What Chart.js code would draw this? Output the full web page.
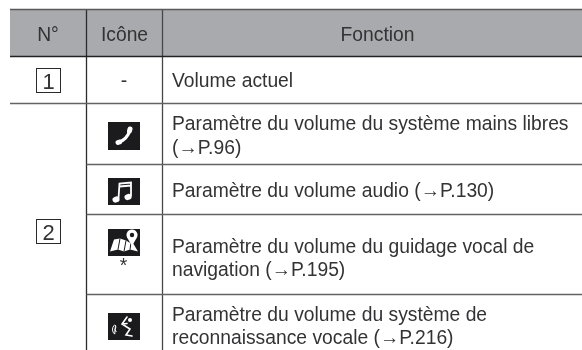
<!DOCTYPE html>
<html>
<head>
<meta charset="utf-8">
<style>
html, body { margin: 0; padding: 0; background: #fff; }
canvas { display: block; }
</style>
<script src="https://cdn.jsdelivr.net/npm/chart.js@4/dist/chart.umd.min.js"></script>
</head>
<body>
<canvas id="chart" width="582" height="350"></canvas>
<script>
// table content
const headers = ['N°', 'Icône', 'Fonction'];
const numbers = ['1', '2'];
const iconCells = ['-', 'phone', 'music', 'map', 'voice'];
const functionLines = [
    ['Volume actuel'],
    ['Paramètre du volume du système mains libres', '(→P.96)'],
    ['Paramètre du volume audio (→P.130)'],
    ['Paramètre du volume du guidage vocal de', 'navigation (→P.195)'],
    ['Paramètre du volume du système de', 'reconnaissance vocale (→P.216)']
];

// layout, in scale units (scales are 1:1 with the page)
const colEdges = [10, 86.5, 162.5, 582];
const rowEdges = [9.5, 56.5, 103.5, 164.5, 214.5, 294.5, 350];
const headerMid = [48, 124.5, 377.5];
const lineBase = [[87], [130, 153.5], [197.3], [252.7, 275.7], [321, 344]];
const iconTile = [[122, 150], [178, 205], [229, 256], [313, 340]];
const FONT = '"Liberation Sans", Arial, sans-serif';
const TEXT = '#333335';
const SIZE = 19.3;

function rule(x0, y0, x1, y1, color) {
    return {
        data: [{ x: x0, y: y0 }, { x: x1, y: y1 }],
        showLine: true, pointRadius: 0, borderWidth: 1.3, borderColor: color
    };
}

const lastX = colEdges[3];
const ruleSets = [
    rule(colEdges[0], rowEdges[0], lastX, rowEdges[0], '#58585a'),
    rule(colEdges[0], rowEdges[1], lastX, rowEdges[1], '#222224'),
    rule(colEdges[0], rowEdges[2], lastX, rowEdges[2], '#636365'),
    rule(colEdges[1], rowEdges[3], lastX, rowEdges[3], '#636365'),
    rule(colEdges[1], rowEdges[4], lastX, rowEdges[4], '#636365'),
    rule(colEdges[1], rowEdges[5], lastX, rowEdges[5], '#636365'),
    rule(colEdges[1], rowEdges[0], colEdges[1], rowEdges[6], '#2c2c2e'),
    rule(colEdges[2], rowEdges[0], colEdges[2], rowEdges[6], '#48484a')
];

function label(ctx, text, x, y, size, align) {
    ctx.font = size + 'px ' + FONT;
    ctx.textAlign = align || 'center';
    ctx.textBaseline = 'alphabetic';
    ctx.fillStyle = TEXT;
    ctx.fillText(text, x, y);
}

function boxedNumber(ctx, text, cx, cy, base) {
    ctx.strokeStyle = '#2a2a2c';
    ctx.lineWidth = 1;
    ctx.strokeRect(cx - 12, cy - 12, 24, 24);
    label(ctx, text, cx, base, 22);
}

// glyphs are drawn around the middle of a 32 wide black tile
const glyphs = {
    phone(ctx) {
        ctx.lineWidth = 3.2;
        ctx.lineCap = 'round';
        ctx.beginPath();
        ctx.moveTo(-6, 6.5);
        ctx.quadraticCurveTo(3, 4, 6, -6);
        ctx.stroke();
        ctx.lineWidth = 5;
        ctx.beginPath();
        ctx.moveTo(-6, 6.5);
        ctx.lineTo(-4.5, 6);
        ctx.moveTo(5.5, -5);
        ctx.lineTo(6, -7);
        ctx.stroke();
    },
    music(ctx) {
        ctx.lineWidth = 1.8;
        ctx.lineCap = 'butt';
        ctx.beginPath();
        ctx.moveTo(-5.5, 7);
        ctx.lineTo(-4.5, -8);
        ctx.lineTo(7, -9);
        ctx.lineTo(7, 5);
        ctx.moveTo(-4.5, -5);
        ctx.lineTo(7, -6);
        ctx.stroke();
        ctx.beginPath();
        ctx.ellipse(-8, 8, 3.6, 3, -0.3, 0, Math.PI * 2);
        ctx.ellipse(4, 5.5, 3.6, 3, -0.3, 0, Math.PI * 2);
        ctx.fill();
    },
    map(ctx) {
        ctx.beginPath();
        ctx.moveTo(-14, 9);
        ctx.lineTo(-10, -3);
        ctx.lineTo(-4, -4);
        ctx.lineTo(2, -2);
        ctx.lineTo(8, -1);
        ctx.lineTo(14, 9);
        ctx.lineTo(6, 7);
        ctx.lineTo(0, 9);
        ctx.lineTo(-6, 7);
        ctx.closePath();
        ctx.fill();
        ctx.strokeStyle = '#1b1b1d';
        ctx.lineWidth = 1;
        ctx.beginPath();
        ctx.moveTo(-4, -4);
        ctx.lineTo(-6, 7);
        ctx.moveTo(2, -2);
        ctx.lineTo(0, 9);
        ctx.moveTo(7, 0);
        ctx.lineTo(6, 7);
        ctx.stroke();
        ctx.fillStyle = '#1b1b1d';
        ctx.beginPath();
        ctx.arc(8, -7, 7.5, 0, Math.PI * 2);
        ctx.fill();
        ctx.fillStyle = '#fff';
        ctx.beginPath();
        ctx.arc(8, -7.5, 5.5, Math.PI * 0.85, Math.PI * 0.15);
        ctx.lineTo(8, 3.5);
        ctx.closePath();
        ctx.fill();
        ctx.fillStyle = '#1b1b1d';
        ctx.beginPath();
        ctx.arc(8, -7.5, 2.2, 0, Math.PI * 2);
        ctx.fill();
    },
    voice(ctx) {
        ctx.lineWidth = 1;
        ctx.lineCap = 'round';
        ctx.beginPath();
        ctx.arc(-6, 3, 3, Math.PI * 0.72, Math.PI * 1.28);
        ctx.moveTo(-8.5, -1);
        ctx.arc(-5.5, 3, 6, Math.PI * 0.72, Math.PI * 1.28);
        ctx.stroke();
        ctx.lineWidth = 1.6;
        ctx.beginPath();
        ctx.moveTo(3, -9.5);
        ctx.lineTo(-2, -2.5);
        ctx.lineTo(6, 2.5);
        ctx.lineTo(2, 8.5);
        ctx.lineTo(8, 9.5);
        ctx.moveTo(-2, -2.5);
        ctx.lineTo(3, -3);
        ctx.stroke();
        ctx.beginPath();
        ctx.arc(6, -6.5, 2, 0, Math.PI * 2);
        ctx.fill();
    }
};

const tablePlugin = {
    id: 'table',
    beforeDatasetsDraw(chart) {
        const { ctx, scales: { x, y } } = chart;
        ctx.save();
        ctx.fillStyle = '#a9aaad';
        ctx.fillRect(x.getPixelForValue(colEdges[0]), y.getPixelForValue(rowEdges[0]),
            x.getPixelForValue(lastX) - x.getPixelForValue(colEdges[0]),
            y.getPixelForValue(rowEdges[1]) - y.getPixelForValue(rowEdges[0]));
        ctx.restore();
    },
    afterDatasetsDraw(chart) {
        const { ctx, scales: { x, y } } = chart;
        ctx.save();

        headers.forEach((h, i) => label(ctx, h, x.getPixelForValue(headerMid[i]), y.getPixelForValue(40.5), SIZE));

        boxedNumber(ctx, numbers[0], x.getPixelForValue(48.5), y.getPixelForValue(80.5), y.getPixelForValue(88.5));
        boxedNumber(ctx, numbers[1], x.getPixelForValue(48.5), y.getPixelForValue(231.5), y.getPixelForValue(239.5));

        label(ctx, iconCells[0], x.getPixelForValue(124), y.getPixelForValue(87), SIZE);

        iconCells.slice(1).forEach((name, i) => {
            const [top, bottom] = iconTile[i];
            const left = x.getPixelForValue(108);
            ctx.save();
            ctx.fillStyle = '#1b1b1d';
            ctx.fillRect(left, y.getPixelForValue(top), 32, bottom - top);
            ctx.beginPath();
            ctx.rect(left, y.getPixelForValue(top), 32, bottom - top);
            ctx.clip();
            ctx.translate(left + 16, y.getPixelForValue((top + bottom) / 2));
            ctx.fillStyle = '#fff';
            ctx.strokeStyle = '#fff';
            glyphs[name](ctx);
            ctx.restore();
        });
        label(ctx, '*', x.getPixelForValue(123.5), y.getPixelForValue(272), SIZE);

        functionLines.forEach((lines, r) => {
            lines.forEach((t, l) => {
                label(ctx, t, x.getPixelForValue(172), y.getPixelForValue(lineBase[r][l]), SIZE, 'left');
            });
        });
        ctx.restore();
    }
};

new Chart(document.getElementById('chart'), {
    type: 'scatter',
    data: { datasets: ruleSets },
    options: {
        responsive: false,
        animation: false,
        layout: { padding: 0 },
        plugins: { legend: { display: false }, tooltip: { enabled: false } },
        scales: {
            x: { type: 'linear', display: false, min: 0, max: 582 },
            y: { type: 'linear', display: false, min: 0, max: 350, reverse: true }
        }
    },
    plugins: [tablePlugin]
});
</script>
</body>
</html>
